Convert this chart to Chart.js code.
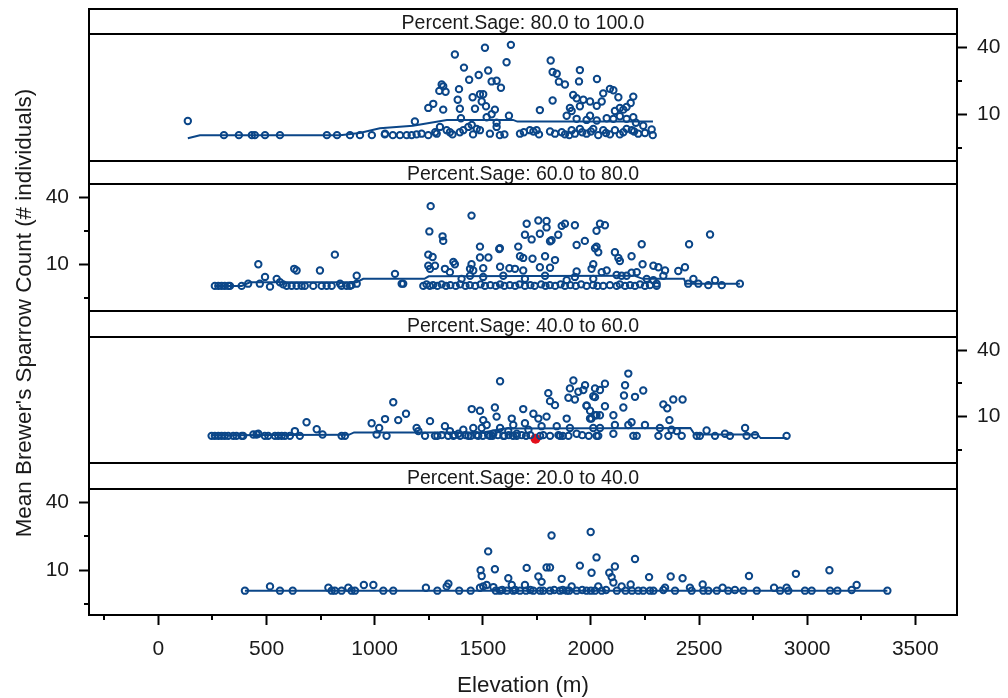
<!DOCTYPE html>
<html lang="en">
<head>
<meta charset="utf-8">
<title>Brewer's Sparrow count by elevation and sage cover</title>
<script src="https://cdn.jsdelivr.net/npm/chart.js@4.4.1/dist/chart.umd.min.js"></script>
<style>
  html, body { margin: 0; padding: 0; background: #fff; }
  body { width: 1008px; height: 698px; position: relative; overflow: hidden;
         font-family: "Liberation Sans", Arial, Helvetica, sans-serif; color: #1a1a1a; }
  canvas { position: absolute; left: 0; }
  .rule { position: absolute; background: #000; z-index: 2; }
  .strip { position: absolute; left: 89px; width: 868px; text-align: center; font-size: 19.5px; z-index: 1; }
  .title { position: absolute; text-align: center; font-size: 22.4px; line-height: 22px; white-space: nowrap; }
</style>
</head>
<body>
<script>
// Strip headings, top panel first
const stripLabels = [
  'Percent.Sage: 80.0 to 100.0',
  'Percent.Sage: 60.0 to 80.0',
  'Percent.Sage: 40.0 to 60.0',
  'Percent.Sage: 20.0 to 40.0'
];

// [elevation (m), mean count] per survey site, grouped by sage cover class
const sage80to100 = [
  [136,8.7],[303,6.5],[372,6.5],[432,6.5],[446,6.5],[493,6.5],[562,6.5],[779,6.5],[826,6.5],[886,6.5],
  [932,6.5],[987,6.5],[1047,6.6],[1084,6.5],[1117,6.5],
  [1510,39.5],[1630,41.9],[1371,34.3],[1610,29.3],[1814,30.3],[1413,26.2],[1481,22.5],[1525,24.7],[1437,20.4],
  [1541,19.7],[1564,20],[1584,17.3],[1310,18.5],[1317,17.8],[1299,16.2],[1328,15.9],[1390,16.8],[1823,23.9],
  [1842,23.1],[1949,24.9],[1852,19.6],[1880,18.5],[1945,19.7],[2028,20.7],[1487,15.1],[1502,15.1],[1453,14.2],
  [1495,13.0],[1384,13.5],[1271,12.4],[1248,11.4],[1317,11.0],[1394,11.2],[1464,11.2],[1515,11.8],[1556,11.0],
  [1541,10],[1518,9.4],[1399,9.2],[1186,8.6],[1621,9.7],[1764,10.9],[1823,13.3],[1918,14.9],[1934,13.9],
  [1965,13.5],[1996,13.0],[2027,11.9],[2050,13.0],[2057,15.4],[2088,16.9],[2104,16.4],[2127,14.2],[2196,14.4],
  [2184,12.6],[2165,11.6],[2150,11.0],[2134,11.4],[2111,10.7],[1903,11.4],[1911,10.7],[1949,11.8],[1996,9.7],
  [1888,9.7],[1934,9.1],[1980,8.9],[2027,8.8],[2073,9.2],[2104,9.1],[2134,9.6],[2165,9.1],[2196,9.4],[2208,8.4],
  [1048,6.7],[1148,6.5],[1171,6.5],[1194,6.6],[1217,6.7],[1248,6.5],[1287,6.7],[1302,7.7],[1333,7.2],[1348,6.9],
  [1394,6.9],[1410,7.2],[1433,7.7],[1449,8.0],[1472,7.4],[1487,7.2],[1533,6.7],[1564,8.4],[1564,7.7],[1579,6.5],
  [1672,6.7],[1718,7.2],[1734,7.0],[1749,7.2],[1811,7.0],[1834,6.7],[1865,6.9],[1880,6.6],[1911,7.2],[1926,6.7],
  [1949,7.4],[1980,6.7],[2011,7.4],[2034,6.5],[2057,7.2],[2088,6.6],[2111,7.2],[2134,6.6],[2165,7.4],[2189,7.2],
  [2219,6.7],[2242,7.9],[2281,7.3],[2286,6.5],[1600,6.6],[1690,6.9],[1760,6.6],[1900,6.5],[1960,6.9],[2000,7.0],
  [2070,6.8],[2150,6.9],[2200,7.0],[2250,6.8],[1455,6.6],[1360,6.6],[1280,6.9]
];
const sage60to80 = [
  [261,6.4],[277,6.4],[292,6.4],[307,6.4],[323,6.4],[331,6.4],[385,6.4],[415,6.7],[469,6.7],[493,7.7],
  [516,6.3],[547,7.4],[562,6.9],[577,6.6],[593,6.4],[616,6.4],[639,6.4],[662,6.4],[677,6.4],[716,6.4],
  [755,6.4],[778,6.4],[801,6.4],[840,6.7],[847,6.4],[870,6.4],[886,6.4],[893,6.5],[917,7.9],[917,6.7],
  [1094,8.2],[1125,6.7],[1132,6.7],
  [462,10.0],[628,9.1],[639,8.8],[747,8.8],[816,12.2],[1259,33.2],[1448,27.3],[1253,19.7],[1314,17.8],[1317,16.2],
  [1487,14.4],[1576,13.7],[1248,12.2],[1268,11.6],[1364,10.5],[1371,10],[1448,10],[1441,9.1],[1456,8.8],[1502,9.2],
  [1487,11.5],[1526,11.5],[1580,9.5],[1623,9.2],[1649,9.1],[1664,14.4],[1672,11.8],[1687,11.4],[1730,11.2],
  [1703,23.1],[1757,24.7],[1795,24.4],[1795,21.4],[1695,18.4],[1726,16.7],[1764,18.8],[1811,16.1],[1849,18.4],
  [1865,22.1],[1880,23.1],[1926,22.4],[1934,14.9],[1972,16.2],[2026,20],[2026,14.4],[2034,12.8],[1788,11.8],
  [1834,10.9],[1764,9.4],[1811,9.3],[1934,8.6],[2011,10],[2003,9.1],[1248,9.7],[1256,9.1],[1279,9.7],[1325,9.1],
  [1348,8.5],[1402,7.4],[1595,7.9],[1687,8.8],[1788,7.9],[1888,7.2],[1926,7.7],[2011,7.4],[1695,7.4],[1502,7.7],
  [1441,7.9],[1579,13.9],[1818,16.4],[2019,13.9],
  [1225,6.4],[1240,6.6],[1255,6.4],[1270,6.5],[1290,6.4],[1310,6.6],[1330,6.4],[1350,6.5],[1375,6.4],[1395,6.6],
  [1420,6.4],[1440,6.5],[1465,6.4],[1490,6.6],[1510,6.4],[1535,6.5],[1560,6.4],[1580,6.6],[1600,6.4],[1625,6.5],
  [1650,6.4],[1670,6.6],[1695,6.4],[1720,6.5],[1740,6.4],[1770,6.6],[1790,6.4],[1810,6.5],[1835,6.4],[1860,6.6],
  [1880,6.4],[1905,6.5],[1930,6.4],[1955,6.6],[1980,6.4],[2010,6.5],[2030,6.4],
  [2042,23.1],[2065,22.4],[2111,12.8],[2127,11.4],[2134,10.7],[2188,11.8],[2235,15.1],[2239,10],[2212,8.5],
  [2188,8.4],[2165,7.9],[2142,7.9],[2119,8.0],[2073,8.8],[2050,8.5],[2289,9.7],[2312,9.4],[2343,8.8],[2335,7.9],
  [2258,7.4],[2289,7.2],[2304,6.7],[2404,8.7],[2435,9.4],[2454,15.1],[2551,18.5],[2474,7.4],[2450,6.7],[2497,6.7],
  [2543,6.5],[2574,7.2],[2605,6.5],[2689,6.7],
  [2057,6.4],[2088,6.5],[2119,6.4],[2134,6.6],[2158,6.4],[2181,6.5],[2204,6.4],[2227,6.6],[2250,6.4],[2273,6.5],[2304,6.4]
];
const sage40to60 = [
  [246,6.7],[261,6.7],[277,6.7],[292,6.7],[307,6.7],[323,6.7],[346,6.7],[361,6.7],[385,6.7],[392,6.7],
  [439,6.9],[454,6.9],[462,7.0],[492,6.7],[508,6.7],[539,6.7],[554,6.7],[570,6.7],[585,6.7],[608,6.7],
  [631,7.4],[654,6.7],[685,8.9],[732,7.7],[759,6.9],[847,6.7],[863,6.7],[986,8.7],[1009,6.9],[1021,7.9],
  [1048,9.5],[1055,6.7],[1086,13.5],[1109,9.3],[1145,10.6],[1194,7.9],[1202,7.4],[1233,6.7],[1256,9.1],[1279,6.7],
  [1325,8.2],[1348,7.4],[1364,6.7],[1387,7.0],[1410,7.6],[1433,6.7],[1456,7.9],[1479,6.7],[1495,7.9],[1502,9.3],
  [1518,8.4],[1533,6.7],[1549,7.0],[1564,10],[1580,20.9],[1556,12.1],[1449,11.7],[1487,11.3],[1580,7.9],[1595,6.7],
  [1618,7.4],[1634,9.6],[1641,8.4],[1657,7.0],[1687,11.7],[1695,8.7],[1711,7.6],[1734,10.6],[1757,9.6],[1772,8.2],
  [1795,10],[1803,16.3],[1811,13.8],[1834,12.7],[1842,8.2],[1857,6.7],[1888,9.6],[1896,14.8],[1903,18],[1919,21.2],
  [1926,14.3],[1942,16.8],[1965,17.4],[1973,19.2],[1980,12.5],[1996,11.3],[2003,9.6],[2011,15.3],[2019,18],[2026,10.3],
  [2011,7.9],[2026,6.7],[1903,7.9],[1934,7.0],[1896,6.7],[1811,6.7],[1765,6.7],[1657,6.7],
  [1290,6.7],[1310,6.8],[1340,6.7],[1370,6.8],[1395,6.7],[1420,6.8],[1445,6.7],[1470,6.8],[1500,6.7],[1525,6.8],
  [1545,6.7],[1570,6.8],[1600,6.7],[1620,6.8],[1640,6.7],[1680,6.8],[1700,6.7],[1720,6.8],[1780,6.8],[1850,6.8],
  [1870,6.7],[1960,6.8],[1990,6.7],
  [2065,12.4],[2042,10.3],[2042,7.9],[2034,6.7],[2104,10.3],[2111,8.4],[2104,7.0],[2150,12.1],[2158,19.2],[2153,15.5],
  [2173,24.5],[2204,15.1],[2242,17.2],[2173,8.4],[2188,8.9],[2196,6.7],[2212,6.7],[2250,8.4],[2335,12.9],[2353,11.9],
  [2381,14.3],[2424,14.3],[2319,7.9],[2363,9.3],[2373,7.6],[2397,7.4],[2420,6.7],[2312,6.7],[2358,6.7],[2489,6.7],
  [2504,6.7],[2535,7.5],[2574,6.7],[2620,7.0],[2643,6.7],[2713,7.9],[2720,6.7],[2759,6.8],[2905,6.7],
  [2065,19.8],[2042,17.4],[2019,15.0],[1980,12.6],[2019,10.3],[1996,9.6]
];
const sage20to40 = [
  [400,6.6],[516,7.2],[562,6.6],[621,6.6],[786,7.0],[801,6.6],[816,6.6],[847,6.6],[878,7.0],[893,6.6],
  [909,6.6],[950,7.4],[994,7.4],[1040,6.6],[1086,6.6],[1237,7.0],[1290,6.6],[1333,7.2],[1341,7.6],[1391,6.6],
  [1444,6.6],[1487,7.0],[1502,7.2],[1525,14.7],[1490,10],[1495,8.9],[1556,10.2],[1518,7.4],[1549,7.1],[1580,6.6],
  [1618,8.5],[1634,7.4],[1611,6.6],[1641,6.6],[1672,6.6],[1695,7.4],[1703,10.5],[1757,8.8],[1772,7.9],[1795,10.6],
  [1811,10.6],[1818,20.3],[1865,8.4],[1734,6.6],[1765,6.6],[1811,6.6],[1857,6.6],[1888,6.6],[1911,7.2],[1949,11.0],
  [1999,21.8],[2003,9.5],[2026,13.0],[1934,6.6],[1980,6.6],[2019,6.6],[2034,7.2],
  [2085,9.5],[2096,8.7],[2111,10.8],[2104,7.8],[2142,7.2],[2184,7.5],[2204,12.6],[2219,6.6],[2242,6.6],[2273,6.6],
  [2289,6.6],[2335,6.7],[2343,7.0],[2389,6.6],[2269,8.7],[2369,8.8],[2424,8.5],[2458,7.0],[2466,6.6],[2517,7.5],
  [2520,6.6],[2543,6.6],[2582,6.6],[2609,7.0],[2635,6.6],[2666,6.7],[2705,6.6],[2767,6.6],[2731,8.9],[2847,7.0],
  [2875,6.6],[2905,7.0],[2913,6.6],[2948,9.3],[2990,6.6],[3021,6.6],[3103,10],[3106,6.6],[3140,6.6],[3206,6.7],
  [3229,7.4],[3371,6.6],
  [1560,6.6],[1590,6.7],[1650,6.7],[1700,6.6],[1720,6.7],[1780,6.6],[1830,6.7],[1870,6.7],[1900,6.6],[1960,6.7],
  [2000,6.6],[2050,6.6],[2070,6.7],[2120,6.6],[2160,6.6],[2190,6.6]
];

// Flagged site drawn in red (40-60 % sage)
const flagged40to60 = [[1744,6.3]];

// Smoothed trend per panel: [elevation (m), fitted mean count]
const fit80to100 = [[136,6.1],[192,6.47],[840,6.5],[930,6.8],[1024,7.5],[1177,7.9],[1334,8.9],[1640,8.9],[1660,8.6],[2287,8.6]];
const fit60to80 = [[261,6.4],[385,6.4],[423,6.9],[917,6.9],[947,7.4],[1230,7.4],[1250,7.8],[2200,7.9],[2240,7.4],[2430,7.4],[2440,6.7],[2689,6.7]];
const fit40to60 = [[246,6.8],[880,6.85],[905,7.2],[1500,7.2],[1600,7.8],[2460,7.9],[2480,6.9],[2770,6.9],[2785,6.4],[2905,6.4]];
const fit20to40 = [[400,6.6],[3371,6.6]];

// Axis ticks
const yMajorTicks = [10, 40];
const yMinorTicks = [5, 20];
const xMajorTicks = [0, 500, 1000, 1500, 2000, 2500, 3000, 3500];
const xMinorTicks = [-250, 250, 750, 1250, 1750, 2250, 2750, 3250];
const xRange = [-321, 3693];
const yRange = [4.02, 49.7];

const INK = '#0b4688';
const FONT = '"Liberation Sans", Arial, Helvetica, sans-serif';

// Page layout of the lattice (pixels)
const FRAME = { left: 89, right: 957, top: 9, bottom: 615 };
const panelBoxes = [
  { stripTop: 9,   top: 34,  bottom: 161, side: 'right' },
  { stripTop: 161, top: 184, bottom: 311, side: 'left'  },
  { stripTop: 311, top: 337, bottom: 463, side: 'right' },
  { stripTop: 463, top: 489, bottom: 615, side: 'left'  }
];
const panelSeries = [
  { points: sage80to100, fit: fit80to100, flagged: [] },
  { points: sage60to80,  fit: fit60to80,  flagged: [] },
  { points: sage40to60,  fit: fit40to60,  flagged: flagged40to60 },
  { points: sage20to40,  fit: fit20to40,  flagged: [] }
];

const PAD = 20;          // spare canvas room above/below each panel
const X_AXIS_H = 83;     // room for the elevation tick labels

const toXY = arr => arr.map(([x, y]) => ({ x, y }));

// Short minor tick marks, placed through the chart's own scales
const minorTickMarks = {
  id: 'minorTickMarks',
  afterDraw(chart) {
    const { ctx, chartArea: area, scales } = chart;
    ctx.save();
    ctx.strokeStyle = '#000';
    ctx.lineWidth = 2;
    ctx.beginPath();
    const ys = scales.y;
    const onLeft = ys.options.position === 'left';
    const edge = onLeft ? area.left : area.right;
    for (const v of yMinorTicks) {
      const py = Math.round(ys.getPixelForValue(v));
      ctx.moveTo(edge, py);
      ctx.lineTo(onLeft ? edge - 5 : edge + 5, py);
    }
    if (scales.x.options.display) {
      for (const v of xMinorTicks) {
        const px = Math.round(scales.x.getPixelForValue(v));
        ctx.moveTo(px, area.bottom);
        ctx.lineTo(px, area.bottom + 5);
      }
    }
    ctx.stroke();
    ctx.restore();
  }
};

function addRule(left, top, width, height) {
  const d = document.createElement('div');
  d.className = 'rule';
  Object.assign(d.style, { left: left + 'px', top: top + 'px', width: width + 'px', height: height + 'px' });
  document.body.appendChild(d);
}

panelBoxes.forEach((box, i) => {
  const last = i === panelBoxes.length - 1;
  const series = panelSeries[i];
  const plotH = box.bottom - box.top;

  const canvas = document.createElement('canvas');
  const h = PAD + plotH + (last ? X_AXIS_H : PAD);
  canvas.width = 1008;
  canvas.height = h;
  canvas.style.top = (box.top - PAD) + 'px';
  canvas.style.width = '1008px';
  canvas.style.height = h + 'px';
  document.body.appendChild(canvas);

  const datasets = [
    { type: 'line', data: toXY(series.fit), borderColor: INK, borderWidth: 2,
      pointRadius: 0, fill: false, tension: 0 },
    { type: 'scatter', data: toXY(series.points), pointStyle: 'circle', pointRadius: 3.2,
      pointBorderWidth: 2, borderColor: INK, backgroundColor: 'rgba(0,0,0,0)' }
  ];
  if (series.flagged.length) {
    datasets.push({ type: 'scatter', data: toXY(series.flagged), pointStyle: 'circle', pointRadius: 5,
      pointBorderWidth: 0, borderColor: '#e3101b', backgroundColor: '#e3101b' });
  }

  new Chart(canvas, {
    type: 'scatter',
    data: { datasets },
    options: {
      responsive: false,
      animation: false,
      devicePixelRatio: 1,
      events: [],
      layout: { padding: {
        top: PAD,
        bottom: last ? 0 : PAD,
        left: box.side === 'right' ? FRAME.left : 0,
        right: box.side === 'left' ? 1008 - FRAME.right : 0
      } },
      plugins: { legend: { display: false }, tooltip: { enabled: false } },
      scales: {
        x: {
          type: 'linear', min: xRange[0], max: xRange[1], display: last,
          afterBuildTicks: s => { s.ticks = xMajorTicks.map(v => ({ value: v })); },
          afterFit: s => { s.height = last ? X_AXIS_H : 0; },
          grid: { drawOnChartArea: false, drawTicks: true, tickLength: 10, tickWidth: 2, tickColor: '#000' },
          border: { display: false },
          ticks: { callback: v => String(v), autoSkip: false, maxRotation: 0, padding: 12,
                   color: '#1a1a1a', font: { family: FONT, size: 21 } }
        },
        y: {
          type: 'logarithmic', position: box.side, min: yRange[0], max: yRange[1],
          afterBuildTicks: s => { s.ticks = yMajorTicks.map(v => ({ value: v })); },
          afterFit: s => { s.width = box.side === 'left' ? FRAME.left : 1008 - FRAME.right; },
          grid: { drawOnChartArea: false, drawTicks: true, tickLength: 10, tickWidth: 2, tickColor: '#000' },
          border: { display: false },
          ticks: { callback: v => String(v), autoSkip: false, padding: 10,
                   color: '#1a1a1a', font: { family: FONT, size: 21 } }
        }
      }
    },
    plugins: [minorTickMarks]
  });

  // strip heading
  const s = document.createElement('div');
  s.className = 'strip';
  const sh = box.top - box.stripTop;
  Object.assign(s.style, { top: (box.stripTop + 1) + 'px', height: sh + 'px', lineHeight: sh + 'px' });
  s.textContent = stripLabels[i];
  document.body.appendChild(s);

  addRule(FRAME.left - 1, box.stripTop - 1, FRAME.right - FRAME.left + 2, 2);
  addRule(FRAME.left - 1, box.top - 1, FRAME.right - FRAME.left + 2, 2);
});

// outer frame sides and bottom
addRule(FRAME.left - 1, FRAME.bottom - 1, FRAME.right - FRAME.left + 2, 2);
addRule(FRAME.left - 1, FRAME.top - 1, 2, FRAME.bottom - FRAME.top + 2);
addRule(FRAME.right - 1, FRAME.top - 1, 2, FRAME.bottom - FRAME.top + 2);

// axis titles
const xTitle = document.createElement('div');
xTitle.className = 'title';
Object.assign(xTitle.style, { left: FRAME.left + 'px', width: (FRAME.right - FRAME.left) + 'px', top: '674px' });
xTitle.textContent = 'Elevation (m)';
document.body.appendChild(xTitle);

const yTitle = document.createElement('div');
yTitle.className = 'title';
Object.assign(yTitle.style, { left: (23.5 - 300) + 'px', width: '600px', top: (313 - 11) + 'px', height: '22px',
  transform: 'rotate(-90deg)', transformOrigin: '50% 50%' });
yTitle.textContent = "Mean Brewer's Sparrow Count (# individuals)";
document.body.appendChild(yTitle);
</script>
</body>
</html>
